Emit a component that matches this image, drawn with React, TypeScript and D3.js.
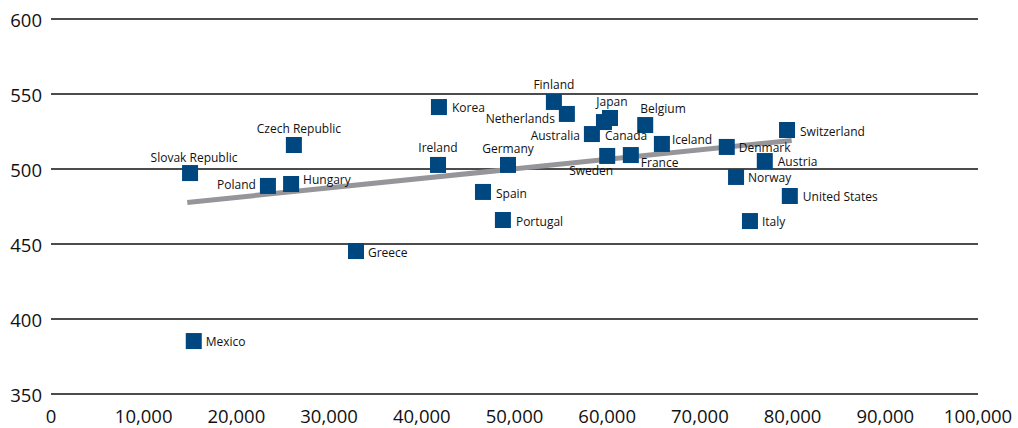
import React from "react";
import * as d3 from "d3";

const countries = [
  "Slovak Republic", "Czech Republic", "Poland", "Hungary", "Mexico",
  "Korea", "Ireland", "Germany", "Spain", "Portugal", "Greece",
  "Finland", "Netherlands", "Canada", "Japan", "Australia", "Belgium",
  "Iceland", "Sweden", "France", "Switzerland", "Denmark", "Austria",
  "Norway", "United States", "Italy",
];
const gdp = [
  15000, 26200, 23400, 25900, 15400,
  41850, 41750, 49300, 46600, 48750, 32900,
  54250, 55650, 59650, 60300, 58350, 64100,
  65900, 60000, 62550, 79400, 72900, 77000,
  73900, 79700, 75400,
];
const scores = [
  497.3, 516, 488.7, 490, 385.3,
  541.3, 502.7, 502.7, 484.7, 466, 445.3,
  544.7, 536.7, 531.3, 534, 523.3, 529.3,
  516.7, 508.7, 509.3, 526, 514.7, 505.3,
  494.7, 482, 465.3,
];
const trendX = [14700, 79900];
const trendY = [477.7, 519];
const xTicks = [0, 10000, 20000, 30000, 40000, 50000, 60000, 70000, 80000, 90000, 100000];
const yTicks = [350, 400, 450, 500, 550, 600];

// label placement: [anchor, dx, dy] relative to marker centre
const labelPlacement: Record<string, [string, number, number]> = {
  "Slovak Republic": ["middle", 4, -11],
  "Czech Republic": ["middle", 5, -12],
  Poland: ["end", -12, 3],
  Hungary: ["start", 12, 0],
  Mexico: ["start", 12, 5],
  Korea: ["start", 13, 5],
  Ireland: ["middle", 0, -13],
  Germany: ["middle", 0, -12],
  Spain: ["start", 13, 6],
  Portugal: ["start", 13, 6],
  Greece: ["start", 12, 6],
  Finland: ["middle", 0, -13],
  Netherlands: ["end", -12, 9],
  Canada: ["start", 1, 18],
  Japan: ["middle", 2, -12],
  Australia: ["end", -12, 6],
  Belgium: ["start", -5, -12],
  Iceland: ["start", 10, 0],
  Sweden: ["end", 6, 19],
  France: ["start", 10, 12],
  Switzerland: ["start", 13, 6],
  Denmark: ["start", 12, 5],
  Austria: ["start", 13, 5],
  Norway: ["start", 12, 5],
  "United States": ["start", 13, 5],
  Italy: ["start", 12, 5],
};

export default function App() {
  const W = 1018;
  const H = 428;
  const x = d3.scaleLinear().domain([0, 100000]).range([51, 978]);
  const y = d3.scaleLinear().domain([350, 600]).range([394, 19]);
  const fmt = d3.format(",");
  const sq = 16;
  const font = "'Open Sans', 'Noto Sans', sans-serif";
  const trend = d3
    .line<number>()
    .x((_, i) => x(trendX[i]))
    .y((d) => y(d))(trendY);

  return (
    <svg
      width={W}
      height={H}
      style={{ position: "absolute", left: 0, top: 0, background: "#fff" }}
      fontFamily={font}
    >
      <rect x={0} y={0} width={W} height={H} fill="#fff" />
      {yTicks.map((t) => (
        <g key={t}>
          <line x1={x(0)} x2={x(100000)} y1={y(t)} y2={y(t)} stroke="#111" strokeWidth={1.5} />
          <text x={42} y={y(t) + 7.5} textAnchor="end" fontSize={18.5} fill="#111">
            {t}
          </text>
        </g>
      ))}
      {xTicks.map((t) => (
        <text key={t} x={x(t)} y={423} textAnchor="middle" fontSize={18.5} fill="#111">
          {fmt(t)}
        </text>
      ))}
      <path d={trend || ""} stroke="#96969a" strokeWidth={5} fill="none" />
      {countries.map((c, i) => (
        <rect
          key={c}
          x={x(gdp[i]) - sq / 2}
          y={y(scores[i]) - sq / 2}
          width={sq}
          height={sq}
          fill="#00467f"
        />
      ))}
      {countries.map((c, i) => {
        const [anchor, dx, dy] = labelPlacement[c];
        return (
          <text
            key={c}
            x={x(gdp[i]) + dx}
            y={y(scores[i]) + dy}
            textAnchor={anchor as any}
            fontSize={12}
            fill="#111"
          >
            {c}
          </text>
        );
      })}
    </svg>
  );
}
